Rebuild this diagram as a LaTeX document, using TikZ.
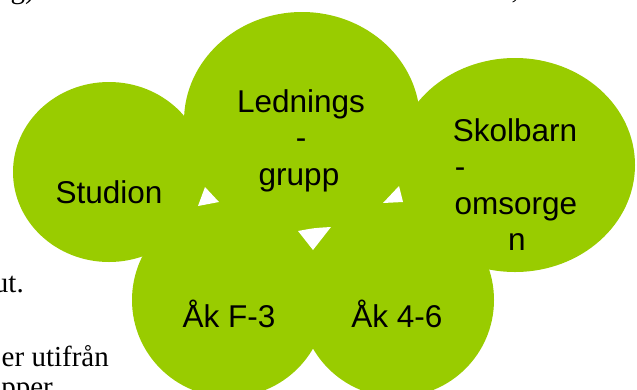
\documentclass[tikz,border=0pt]{standalone}
\usepackage{fontspec}
\setmainfont{Liberation Serif}
\newfontfamily\arialf{Liberation Sans}
\usetikzlibrary{shapes.geometric}
\definecolor{leaf}{HTML}{99CC00}
\begin{document}
\begin{tikzpicture}[x=1pt,y=-1pt,
  blob/.style={ellipse, fill=leaf, draw=none, inner sep=0pt, outer sep=0pt},
  gap/.style={fill=white, draw=none},
  lbl/.style={font=\arialf\fontsize{31.5}{36}\selectfont, inner sep=0pt, anchor=base},
  bgtext/.style={font=\fontsize{29}{33}\selectfont, inner sep=0pt, anchor=base east}]
\useasboundingbox (0,0) rectangle (637,389);
\begin{scope}
\clip (0,0) rectangle (637,389);
% fragments of the page text behind the diagram
\node[bgtext] (frag1) at (35,-1.5) {g)};
\node[bgtext] (frag2) at (519,-1.5) {,};
\node[bgtext] (frag3) at (24,292) {ut.};
\node[bgtext] (frag4) at (109,366) {er utifrån};
\node[bgtext] (frag5) at (53,396) {pper};
% circles
\node[blob, minimum width=192pt, minimum height=180pt] (studion) at (109,172) {};
\node[blob, minimum width=236pt, minimum height=218pt] (ledning) at (302,121) {};
\node[blob, minimum width=240pt, minimum height=214pt] (skolbarn) at (515,165) {};
\node[blob, minimum width=194pt, minimum height=194pt] (akf3) at (229,300) {};
\node[blob, minimum width=194pt, minimum height=194pt] (ak46) at (397,300) {};
% the inner area where the circles overlap
\fill[leaf] (studion.center) -- (ledning.center) -- (skolbarn.center)
  -- (ak46.center) -- (akf3.center) -- cycle;
% small gaps where three circles meet
\coordinate (g1a) at (205,187); \coordinate (g1b) at (198,206); \coordinate (g1c) at (219,202);
\coordinate (g2a) at (399,186); \coordinate (g2b) at (383,203); \coordinate (g2c) at (403,202);
\coordinate (g3a) at (298,231); \coordinate (g3b) at (331,227); \coordinate (g3c) at (313,250);
\fill[gap] (g1a) -- (g1c) -- (g1b) -- cycle;
\fill[gap] (g2a) -- (g2c) -- (g2b) -- cycle;
\fill[gap] (g3a) .. controls (314,228) .. (g3b) -- (g3c) -- cycle;
% labels
\node[lbl] (l-studion) at (109,203) {Studion};
\node[lbl] (l-led1) at (301,112) {Lednings};
\node[lbl] (l-led2) at (301,148.5) {-};
\node[lbl] (l-led3) at (299,185) {grupp};
\node[lbl] (l-sko1) at (515,141) {Skolbarn};
\node[lbl] (l-sko2) at (460,177.5) {-};
\node[lbl] (l-sko3) at (516,214) {omsorge};
\node[lbl] (l-sko4) at (517,250) {n};
\node[lbl] (l-akf3) at (229,327) {Åk F-3};
\node[lbl] (l-ak46) at (397,327) {Åk 4-6};
\end{scope}
\end{tikzpicture}
\end{document}
